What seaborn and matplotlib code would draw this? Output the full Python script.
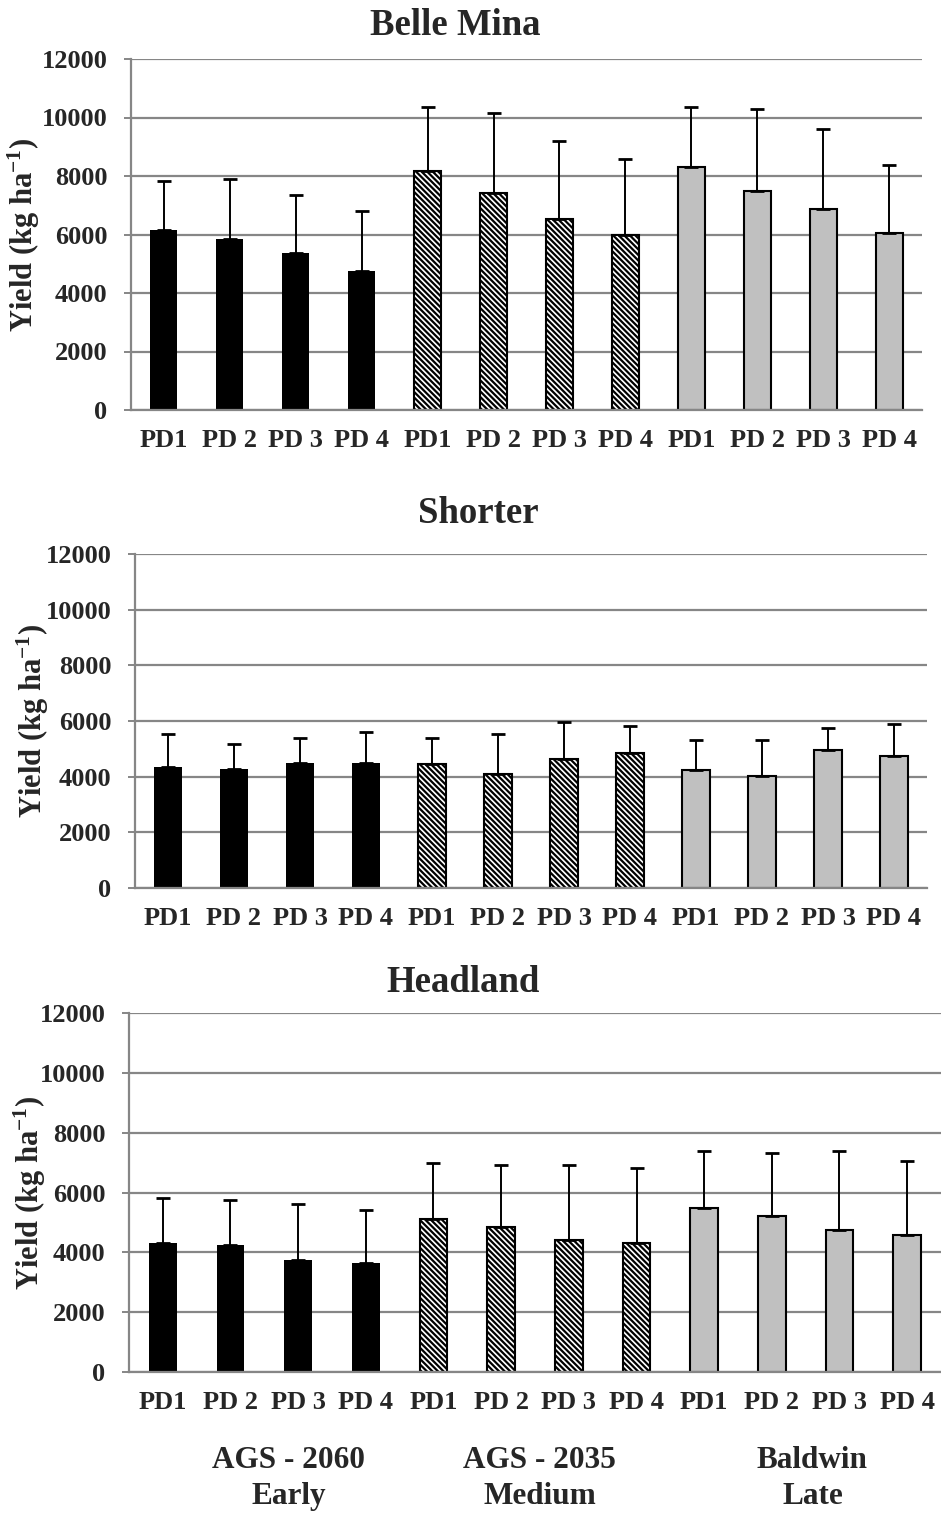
import matplotlib
matplotlib.use("Agg")
import matplotlib.pyplot as plt
import matplotlib.transforms as mtransforms
import numpy as np
import pandas as pd
import seaborn as sns

# ---------------- data ----------------
planting_dates = ["PD1", "PD 2", "PD 3", "PD 4"]
cultivars = ["AGS - 2060", "AGS - 2035", "Baldwin"]
maturity = ["Early", "Medium", "Late"]
locations = ["Belle Mina", "Shorter", "Headland"]

belle_mina_yield = [6140, 5860, 5380, 4760, 8160, 7420, 6530, 5980, 8310, 7490, 6860, 6050]
belle_mina_err = [1690, 2040, 1980, 2040, 2190, 2720, 2660, 2600, 2050, 2800, 2760, 2330]

shorter_yield = [4330, 4260, 4480, 4480, 4450, 4090, 4620, 4840, 4240, 4030, 4960, 4740]
shorter_err = [1190, 900, 910, 1140, 940, 1430, 1360, 980, 1090, 1300, 790, 1150]

headland_yield = [4300, 4230, 3760, 3640, 5100, 4840, 4420, 4300, 5490, 5230, 4760, 4570]
headland_err = [1510, 1530, 1870, 1790, 1870, 2070, 2490, 2530, 1890, 2090, 2620, 2470]

yticks = [0, 2000, 4000, 6000, 8000, 10000, 12000]

# ---------------- style ----------------
sns.set_theme(style="white")
plt.rcParams["font.family"] = ["Liberation Serif", "DejaVu Serif"]
plt.rcParams["font.weight"] = "bold"
plt.rcParams["mathtext.fontset"] = "custom"
plt.rcParams["mathtext.rm"] = "Liberation Serif:bold"
plt.rcParams["mathtext.bf"] = "Liberation Serif:bold"
plt.rcParams["mathtext.default"] = "bf"
plt.rcParams["hatch.linewidth"] = 1.6
plt.rcParams["hatch.color"] = "black"

GRID = "#868686"
fill_colors = {"AGS - 2060": "black", "AGS - 2035": "white", "Baldwin": "#c0c0c0"}
hatches = {"AGS - 2060": "", "AGS - 2035": "\\\\\\\\\\\\", "Baldwin": ""}

W, H = 941, 1513
fig = plt.figure(figsize=(W / 100, H / 100), dpi=100)
fig.patch.set_facecolor("white")


def px_axes(left, top, right, bottom):
    return fig.add_axes([left / W, 1 - bottom / H, (right - left) / W, (bottom - top) / H])


panel_boxes = [(131, 59, 922, 410), (135, 554, 927, 888), (129, 1013, 941, 1372)]
ylabel_x = [-0.1125, -0.106, -0.10]
title_pos = [(455, 35), (478, 523), (463, 992)]
all_yield = [belle_mina_yield, shorter_yield, headland_yield]
all_err = [belle_mina_err, shorter_err, headland_err]

n = len(cultivars) * len(planting_dates)
keys = [f"{c}|{p}" for c in cultivars for p in planting_dates]
cult_of = [c for c in cultivars for _ in planting_dates]
pd_labels = [p for _ in cultivars for p in planting_dates]

axes = []
for i, loc in enumerate(locations):
    ax = px_axes(*panel_boxes[i])
    axes.append(ax)
    df = pd.DataFrame({"key": keys, "yield": all_yield[i], "cultivar": cult_of})
    sns.barplot(data=df, x="key", y="yield", hue="cultivar", order=keys,
                hue_order=cultivars, palette=fill_colors, dodge=False,
                width=0.41, errorbar=None, legend=False, ax=ax, zorder=2)
    for patch in ax.patches:
        xc = patch.get_x() + patch.get_width() / 2
        idx = int(round(xc))
        if idx < 0 or idx >= n:
            continue
        c = cult_of[idx]
        patch.set_facecolor(fill_colors[c])
        patch.set_hatch(hatches[c])
        patch.set_edgecolor("black")
        patch.set_linewidth(0 if c == "AGS - 2060" else 1.5)
    ax.errorbar(x=np.arange(n), y=all_yield[i],
                yerr=[np.zeros(n), all_err[i]], fmt="none", ecolor="black",
                elinewidth=1.4, capsize=5, capthick=2.0, zorder=3)

    ax.set_xlim(-0.5, n - 0.5)
    ax.set_ylim(0, 12000)
    ax.set_yticks(yticks)
    ax.set_yticklabels([str(v) for v in yticks], fontsize=19, fontweight="bold")
    ax.set_xticks(np.arange(n))
    ax.set_xticklabels(pd_labels, fontsize=19, fontweight="bold")
    ax.set_xticks(np.arange(n + 1) - 0.5, minor=True)
    ax.tick_params(axis="x", which="major", length=0, pad=14)
    ax.tick_params(axis="x", which="minor", length=5, width=1.4, color=GRID, direction="out")
    ax.tick_params(axis="y", length=5, width=1.4, color=GRID, direction="out", pad=12, left=True)
    ax.set_xlabel("")
    ax.set_ylabel("Yield (kg ha$^{-1}$)", fontsize=22, fontweight="bold")
    ax.yaxis.set_label_coords(ylabel_x[i], 0.5)
    ax.yaxis.grid(True, color=GRID, linewidth=1.6)
    ax.xaxis.grid(False)
    ax.set_axisbelow(True)
    for s in ["top", "right"]:
        ax.spines[s].set_visible(False)
    for s in ["left", "bottom"]:
        ax.spines[s].set_color(GRID)
        ax.spines[s].set_linewidth(1.6)
    ax.set_facecolor("white")

    tx, ty = title_pos[i]
    fig.text(tx / W, 1 - ty / H, loc, fontsize=26.5, fontweight="bold",
             ha="center", va="baseline")

# group labels under the bottom panel
ax3 = axes[2]
trans = mtransforms.blended_transform_factory(ax3.transData, fig.transFigure)
group_x = [1.86, 5.57, 9.6]
for gx, cname, mname in zip(group_x, cultivars, maturity):
    ax3.text(gx, 1 - 1468 / H, cname, transform=trans, ha="center", va="baseline",
             fontsize=22.5, fontweight="bold", clip_on=False)
    ax3.text(gx, 1 - 1504 / H, mname, transform=trans, ha="center", va="baseline",
             fontsize=22.5, fontweight="bold", clip_on=False)

fig.savefig("out.png", dpi=100, facecolor="white")
